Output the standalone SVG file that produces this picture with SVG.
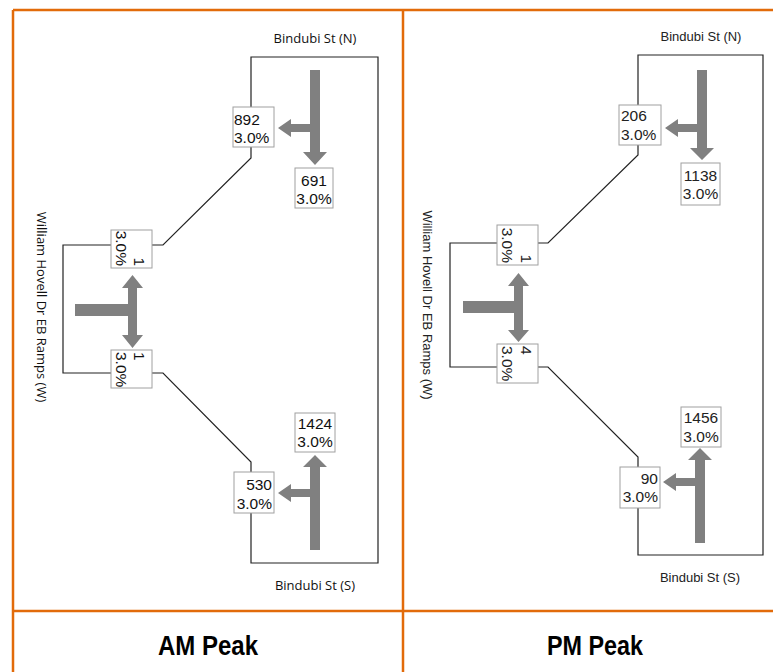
<svg xmlns="http://www.w3.org/2000/svg" width="773" height="672" viewBox="0 0 773 672">
<style>
.frame{fill:none;stroke:#e26b0a;stroke-width:2.5}
.road{fill:none;stroke:#222;stroke-width:1.2}
.arr{fill:#808080}
.box{fill:#fff;stroke:#a0a0a0;stroke-width:1}
.am{font-family:"Liberation Sans",Arial,sans-serif;font-size:15.5px;fill:#111}
.pm{font-family:"Liberation Sans",Arial,sans-serif;font-size:15.5px;fill:#222}
.lblam{font-family:"Open Sans","Noto Sans",sans-serif;font-size:13px;fill:#111}
.lblpm{font-family:"Liberation Sans",Arial,sans-serif;font-size:13px;fill:#222}
.title{font-family:"Liberation Sans",Arial,sans-serif;font-size:27px;font-weight:bold;fill:#000}
</style>
<rect width="773" height="672" fill="#fff"/>
<g id="frame">
<path class="frame" d="M13,10 H773 M13,10 V672 M403,10 V672 M13,611 H773"/>
</g>
<g id="connectors">
<path class="road" d="M251,57 H378 V563 H251 V462 L163,373 H63 V245 H163 L251,158 Z"/>
<path class="road" d="M638,55 H763 V555 H638 V457 L548,367 H450 V243 H548 L638,155 Z"/>
</g>
<g id="am-arrows">
<path class="arr" d="M310,70 H320 V152 H327 L315,165 L303,152 H310 V132 H291 V137 L278,128 L291,119 V124 H310 Z"/>
<path class="arr" d="M75,304 H128 V288 H122 L132.5,275 L143,288 H137 V335 H143 L132.5,348 L122,335 H128 V316 H75 Z"/>
<path class="arr" d="M310,550 V497 H291 V502 L278,493 L291,484 V489 H310 V467 H303 L315,455 L327,467 H320 V550 Z"/>
</g>
<g id="pm-arrows">
<path class="arr" d="M697,70 H707 V148 H714 L702,160 L690,148 H697 V132 H678 V137 L665,128 L678,119 V124 H697 Z"/>
<path class="arr" d="M463,301 H514 V286 H508 L518.5,273 L529,286 H523 V330 H529 L518.5,342 L508,330 H514 V313 H463 Z"/>
<path class="arr" d="M695,543 V486 H676 V491 L663,482 L676,473 V478 H695 V460 H688 L700,448 L712,460 H705 V543 Z"/>
</g>
<g id="am-north">
<text class="lblam" x="315" y="43" text-anchor="middle">Bindubi St (N)</text>
</g>
<g id="am-south">
<text class="lblam" x="315" y="590" text-anchor="middle">Bindubi St (S)</text>
</g>
<g id="am-west">
<text class="lblam" transform="translate(37,307) rotate(90)" text-anchor="middle">William Hovell Dr EB Ramps (W)</text>
</g>
<g id="am-n-left">
<rect class="box" x="233" y="107" width="41" height="40"/>
<text class="am" x="234" y="125">892</text>
<text class="am" x="234" y="143">3.0%</text>
</g>
<g id="am-n-thru">
<rect class="box" x="295" y="168" width="38" height="40"/>
<text class="am" x="314" y="186" text-anchor="middle">691</text>
<text class="am" x="314" y="204" text-anchor="middle">3.0%</text>
</g>
<g id="am-w-up">
<rect class="box" x="111" y="230" width="41" height="38"/>
<text class="am" transform="translate(134,266) rotate(90)" text-anchor="end">1<tspan x="0" dy="18">3.0%</tspan></text>
</g>
<g id="am-w-down">
<rect class="box" x="111" y="350" width="41" height="38"/>
<text class="am" transform="translate(134,352) rotate(90)">1<tspan x="0" dy="18">3.0%</tspan></text>
</g>
<g id="am-s-thru">
<rect class="box" x="295" y="413" width="40" height="39"/>
<text class="am" x="315" y="429" text-anchor="middle">1424</text>
<text class="am" x="315" y="447" text-anchor="middle">3.0%</text>
</g>
<g id="am-s-left">
<rect class="box" x="234" y="472" width="40" height="41"/>
<text class="am" x="272" y="490" text-anchor="end">530</text>
<text class="am" x="272" y="509" text-anchor="end">3.0%</text>
</g>
<g id="am-title">
<text class="title" x="208" y="655" text-anchor="middle" textLength="100" lengthAdjust="spacingAndGlyphs">AM Peak</text>
</g>
<g id="pm-north">
<text class="lblpm" x="701" y="41" text-anchor="middle">Bindubi St (N)</text>
</g>
<g id="pm-south">
<text class="lblpm" x="700" y="582" text-anchor="middle">Bindubi St (S)</text>
</g>
<g id="pm-west">
<text class="lblpm" transform="translate(423,305) rotate(90)" text-anchor="middle">William Hovell Dr EB Ramps (W)</text>
</g>
<g id="pm-n-left">
<rect class="box" x="619" y="105" width="42" height="40"/>
<text class="pm" x="621" y="121">206</text>
<text class="pm" x="621" y="140">3.0%</text>
</g>
<g id="pm-n-thru">
<rect class="box" x="681" y="163" width="39" height="42"/>
<text class="pm" x="700.5" y="181" text-anchor="middle">1138</text>
<text class="pm" x="700.5" y="199" text-anchor="middle">3.0%</text>
</g>
<g id="pm-w-up">
<rect class="box" x="497" y="225" width="41" height="40"/>
<text class="pm" transform="translate(521,263) rotate(90)" text-anchor="end">1<tspan x="0" dy="19">3.0%</tspan></text>
</g>
<g id="pm-w-down">
<rect class="box" x="497" y="344" width="41" height="39"/>
<text class="pm" transform="translate(521,346) rotate(90)">4<tspan x="0" dy="19">3.0%</tspan></text>
</g>
<g id="pm-s-thru">
<rect class="box" x="681" y="407" width="40" height="40"/>
<text class="pm" x="701" y="423" text-anchor="middle">1456</text>
<text class="pm" x="701" y="442" text-anchor="middle">3.0%</text>
</g>
<g id="pm-s-left">
<rect class="box" x="620" y="467" width="40" height="41"/>
<text class="pm" x="658" y="484" text-anchor="end">90</text>
<text class="pm" x="658" y="502" text-anchor="end">3.0%</text>
</g>
<g id="pm-title">
<text class="title" x="595" y="655" text-anchor="middle" textLength="96" lengthAdjust="spacingAndGlyphs">PM Peak</text>
</g>
</svg>
